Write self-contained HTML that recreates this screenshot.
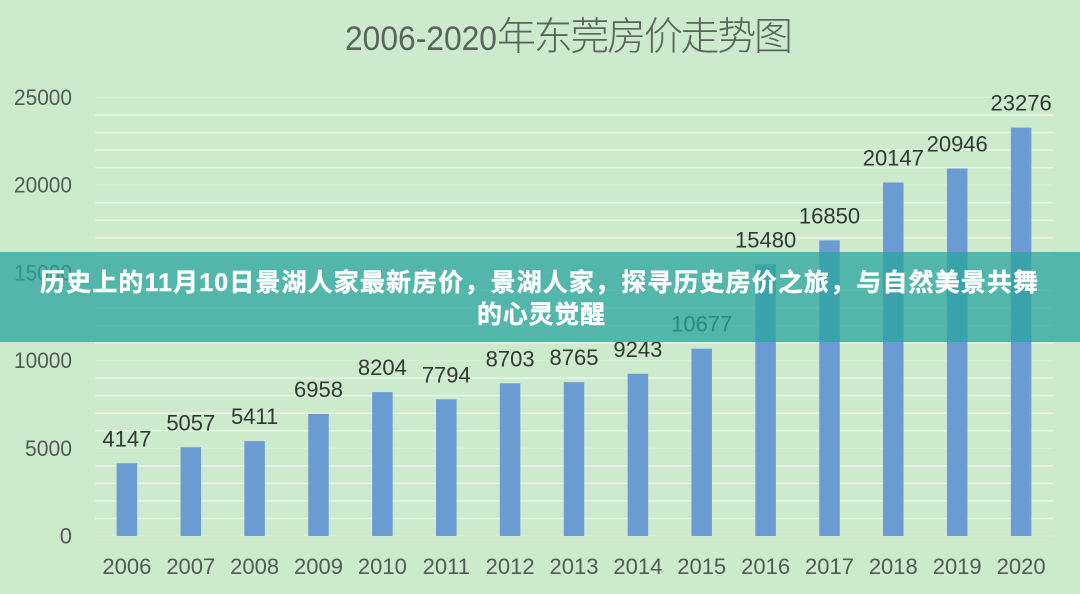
<!DOCTYPE html>
<html>
<head>
<meta charset="utf-8">
<style>
  html,body{margin:0;padding:0;background:#cdeacd;}
  svg{display:block;}
  .num{font-family:"Liberation Sans","Noto Sans CJK SC",sans-serif;}
</style>
</head>
<body>
<svg width="1080" height="594" viewBox="0 0 1080 594" xmlns="http://www.w3.org/2000/svg">
  <rect x="0" y="0" width="1080" height="594" fill="#cdeacd"/>

  <!-- Title -->
  <text x="345" y="50" class="num" font-size="34" fill="#59655a" textLength="152" lengthAdjust="spacingAndGlyphs">2006-2020</text>
  <text x="497" y="50" font-family="'Noto Sans CJK SC','Liberation Sans',sans-serif" font-weight="300" font-size="39" fill="#59655a" textLength="296" lengthAdjust="spacing">年东莞房价走势图</text>

  <!-- minor gridlines -->
  <g stroke="#e8f5e5" stroke-width="1.5">
    <line x1="95" x2="1053" y1="518.46" y2="518.46"/>
    <line x1="95" x2="1053" y1="500.91" y2="500.91"/>
    <line x1="95" x2="1053" y1="483.37" y2="483.37"/>
    <line x1="95" x2="1053" y1="465.82" y2="465.82"/>
    <line x1="95" x2="1053" y1="430.74" y2="430.74"/>
    <line x1="95" x2="1053" y1="413.19" y2="413.19"/>
    <line x1="95" x2="1053" y1="395.65" y2="395.65"/>
    <line x1="95" x2="1053" y1="378.10" y2="378.10"/>
    <line x1="95" x2="1053" y1="343.02" y2="343.02"/>
    <line x1="95" x2="1053" y1="325.47" y2="325.47"/>
    <line x1="95" x2="1053" y1="307.93" y2="307.93"/>
    <line x1="95" x2="1053" y1="290.38" y2="290.38"/>
    <line x1="95" x2="1053" y1="255.30" y2="255.30"/>
    <line x1="95" x2="1053" y1="237.75" y2="237.75"/>
    <line x1="95" x2="1053" y1="220.21" y2="220.21"/>
    <line x1="95" x2="1053" y1="202.66" y2="202.66"/>
    <line x1="95" x2="1053" y1="167.58" y2="167.58"/>
    <line x1="95" x2="1053" y1="150.03" y2="150.03"/>
    <line x1="95" x2="1053" y1="132.49" y2="132.49"/>
    <line x1="95" x2="1053" y1="114.94" y2="114.94"/>
  </g>
  <!-- major gridlines (faint) -->
  <g stroke="#d8eed6" stroke-width="1.4">
    <line x1="95" x2="1053" y1="536" y2="536"/>
    <line x1="95" x2="1053" y1="448.28" y2="448.28"/>
    <line x1="95" x2="1053" y1="360.56" y2="360.56"/>
    <line x1="95" x2="1053" y1="272.84" y2="272.84"/>
    <line x1="95" x2="1053" y1="185.12" y2="185.12"/>
    <line x1="95" x2="1053" y1="97.4" y2="97.4"/>
  </g>

  <!-- Y labels -->
  <g class="num" font-size="22" fill="#4f5d50" text-anchor="end">
    <text x="72" y="543.5">0</text>
    <text x="72" y="455.8" textLength="47" lengthAdjust="spacingAndGlyphs">5000</text>
    <text x="72" y="368" textLength="58" lengthAdjust="spacingAndGlyphs">10000</text>
    <text x="72" y="280.3" textLength="58" lengthAdjust="spacingAndGlyphs">15000</text>
    <text x="72" y="192.6" textLength="58" lengthAdjust="spacingAndGlyphs">20000</text>
    <text x="72" y="104.9" textLength="58" lengthAdjust="spacingAndGlyphs">25000</text>
  </g>

  <!-- Bars -->
  <g fill="#6a9bd3">
    <rect x="116.65" y="463.25" width="20.5" height="72.75"/>
    <rect x="180.55" y="447.3" width="20.5" height="88.7"/>
    <rect x="244.35" y="441.1" width="20.5" height="94.9"/>
    <rect x="308.25" y="413.9" width="20.5" height="122.1"/>
    <rect x="372.15" y="392.1" width="20.5" height="143.9"/>
    <rect x="436.05" y="399.3" width="20.5" height="136.7"/>
    <rect x="499.85" y="383.3" width="20.5" height="152.7"/>
    <rect x="563.75" y="382.2" width="20.5" height="153.8"/>
    <rect x="627.65" y="373.8" width="20.5" height="162.2"/>
    <rect x="691.45" y="348.7" width="20.5" height="187.3"/>
    <rect x="755.35" y="264.4" width="20.5" height="271.6"/>
    <rect x="819.25" y="240.4" width="20.5" height="295.6"/>
    <rect x="883.05" y="182.5" width="20.5" height="353.5"/>
    <rect x="946.95" y="168.5" width="20.5" height="367.5"/>
    <rect x="1010.85" y="127.6" width="20.5" height="408.4"/>
  </g>

  <!-- Data labels -->
  <g class="num" font-size="22" fill="#2f3a30" text-anchor="middle">
    <text x="126.9" y="446.3">4147</text>
    <text x="190.8" y="430.3">5057</text>
    <text x="254.6" y="424.1">5411</text>
    <text x="318.5" y="396.9">6958</text>
    <text x="382.4" y="375.1">8204</text>
    <text x="446.3" y="382.3">7794</text>
    <text x="510.1" y="366.3">8703</text>
    <text x="574.0" y="365.2">8765</text>
    <text x="637.9" y="356.8">9243</text>
    <text x="701.7" y="331.7">10677</text>
    <text x="765.6" y="247.4">15480</text>
    <text x="829.5" y="223.4">16850</text>
    <text x="893.3" y="165.5">20147</text>
    <text x="957.2" y="151.5">20946</text>
    <text x="1021.1" y="110.6">23276</text>
  </g>

  <!-- X labels -->
  <g class="num" font-size="22" fill="#4f5d50" text-anchor="middle">
    <text x="126.9" y="574">2006</text>
    <text x="190.8" y="574">2007</text>
    <text x="254.6" y="574">2008</text>
    <text x="318.5" y="574">2009</text>
    <text x="382.4" y="574">2010</text>
    <text x="446.3" y="574">2011</text>
    <text x="510.1" y="574">2012</text>
    <text x="574.0" y="574">2013</text>
    <text x="637.9" y="574">2014</text>
    <text x="701.7" y="574">2015</text>
    <text x="765.6" y="574">2016</text>
    <text x="829.5" y="574">2017</text>
    <text x="893.3" y="574">2018</text>
    <text x="957.2" y="574">2019</text>
    <text x="1021.1" y="574">2020</text>
  </g>

  <!-- Banner overlay -->
  <rect x="0" y="252" width="1080" height="90" fill="rgba(41,164,157,0.75)"/>
  <g font-family="'Liberation Sans','Noto Sans CJK SC',sans-serif" font-weight="bold" font-size="25" fill="#ffffff" stroke="#ffffff" stroke-width="0.4">
    <text x="40" y="291" textLength="998" lengthAdjust="spacing">历史上的11月10日景湖人家最新房价，景湖人家，探寻历史房价之旅，与自然美景共舞</text>
    <text x="477" y="323" textLength="128" lengthAdjust="spacing">的心灵觉醒</text>
  </g>
</svg>
</body>
</html>
